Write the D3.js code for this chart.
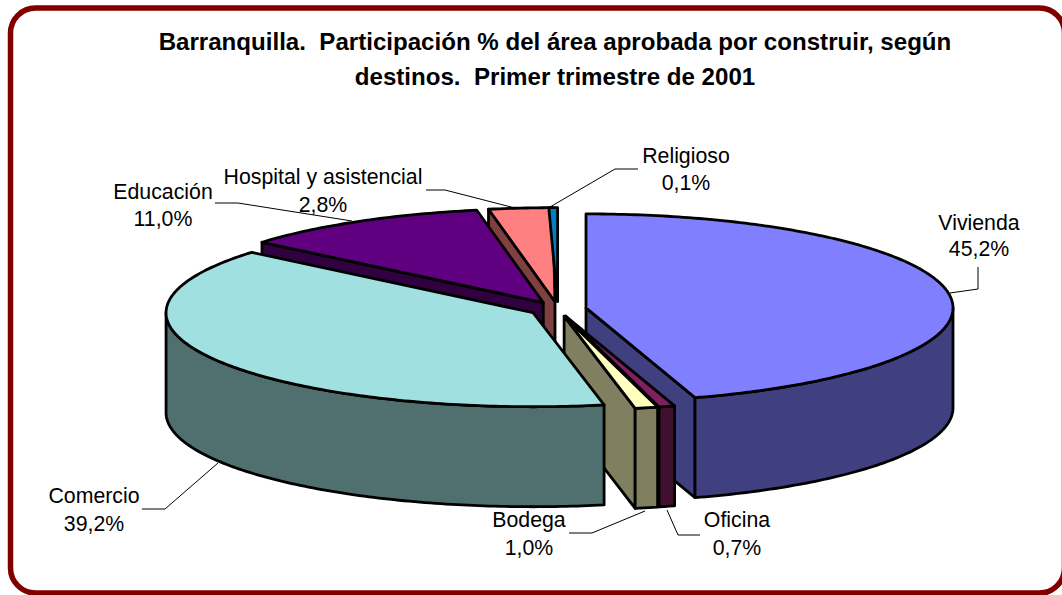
<!DOCTYPE html>
<html lang="es">
<head>
<meta charset="utf-8">
<title>Barranquilla</title>
<script src="https://cdnjs.cloudflare.com/ajax/libs/d3/7.8.5/d3.min.js"></script>
<style>
html,body{margin:0;padding:0;background:#fff;overflow:hidden}
svg{display:block}
text{font-family:"Liberation Sans",Arial,sans-serif;fill:#000}
</style>
</head>
<body>
<div id="chart"></div>
<script>
const categories = ["Vivienda","Oficina","Bodega","Comercio","Educación","Hospital y asistencial","Religioso"];
const shares = [45.2,0.7,1.0,39.2,11.0,2.8,0.1];
const titleLines = ["Barranquilla.  Participación % del área aprobada por construir, según","destinos.  Primer trimestre de 2001"];
const topColors = ["#8080FF","#802060","#FFFFC0","#A0E0E0","#600080","#FF8080","#0080C0"];
const sideColors = ["#404080","#401030","#808060","#507070","#300040","#804040","#004060"];
// back-to-front painting order (indices into categories)
const paintOrder = [5,6,4,0,1,2,3];
// label anchor [x, first baseline, second baseline] and leader polyline
const labelLayout = [
  {x:979,y:[230,256],leader:[[978,267],[978,289],[950,293]]},
  {x:737,y:[527,555],leader:[[700,535],[678,535],[667,510]]},
  {x:529,y:[527,555],leader:[[569,533],[592,533],[645,511]]},
  {x:94, y:[503,531],leader:[[142,509],[165,509],[218,463]]},
  {x:163,y:[199,226],leader:[[215,203],[238,203],[352,221]]},
  {x:323,y:[184,212],leader:[[426,190],[445,190],[515,208]]},
  {x:686,y:[163,190],leader:[[638,169],[615,169],[550,207]]}
];

const W = 1062, H = 595;
const cx = 557.7, cy = 309, rx = 367, ry = 94, depth = 100, explode = 0.078;
// very thin wedges are widened to this sweep so their fill stays visible
const minSweep = 0.024;
const sx = d3.scaleLinear().domain([-1,1]).range([cx-rx,cx+rx]);
const sy = d3.scaleLinear().domain([-1,1]).range([cy-ry,cy+ry]);

const svg = d3.select("#chart").append("svg").attr("width",W).attr("height",H);

// frame
svg.append("rect").attr("x",13.5).attr("y",11).attr("width",1051).attr("height",585).attr("rx",25).attr("fill","#000");
svg.append("rect").attr("x",10.5).attr("y",8).attr("width",1054).attr("height",585).attr("rx",25)
  .attr("fill","#fff").attr("stroke","#800000").attr("stroke-width",5.5);

// title
svg.selectAll("text.title").data(titleLines).join("text").attr("class","title")
  .attr("x",555).attr("y",(d,i)=>50+i*35).attr("text-anchor","middle")
  .attr("font-size",24.1).attr("font-weight","bold").style("white-space","pre").text(d=>d);

// pie geometry
const arcs = d3.pie().sort(null).value(d=>d).startAngle(0).endAngle(2*Math.PI)(shares);
const line = d3.line();

function slicePoints(a){
  const mid=(a.startAngle+a.endAngle)/2;
  return {ax:Math.sin(mid)*explode, ay:-Math.cos(mid)*explode};
}
function rimPoint(o,t,dy=0){
  return [sx(o.ax+Math.sin(t)), sy(o.ay-Math.cos(t))+dy];
}
function sample(t0,t1){
  const n=Math.max(2,Math.ceil(Math.abs(t1-t0)/0.015));
  return d3.range(n+1).map(i=>t0+(t1-t0)*i/n);
}
const g = svg.append("g").attr("stroke","#000").attr("stroke-width",2.8).attr("stroke-linejoin","round");

paintOrder.forEach(i=>{
  const a=arcs[i], o=slicePoints(a), e=a.endAngle;
  const thin = e-a.startAngle < minSweep;
  const s = thin ? e-minSweep : a.startAngle;
  const apex=[sx(o.ax),sy(o.ay)], apexB=[apex[0],apex[1]+depth];
  const side=sideColors[i];
  const cut=t=>{
    const r=rimPoint(o,t), b=rimPoint(o,t,depth);
    g.append("path").attr("fill",side).attr("d",line([apex,r,b,apexB])+"Z");
  };
  // cut faces turned towards the viewer
  if(!thin && Math.sin(s)<-1e-6) cut(s);
  if(!thin && Math.sin(e)>1e-6) cut(e);
  // outer wall (front half of the rim)
  const w0=Math.max(s,Math.PI/2), w1=Math.min(e,3*Math.PI/2);
  if(w1>w0){
    const ts=sample(w0,w1);
    const pts=ts.map(t=>rimPoint(o,t)).concat(ts.slice().reverse().map(t=>rimPoint(o,t,depth)));
    g.append("path").attr("fill",side).attr("d",line(pts)+"Z");
  }
  // top
  const top=[apex].concat(sample(s,e).map(t=>rimPoint(o,t)));
  g.append("path").attr("fill",topColors[i]).attr("d",line(top)+"Z");
});

// leaders
svg.append("g").selectAll("path").data(labelLayout).join("path")
  .attr("d",d=>line(d.leader)).attr("fill","none").attr("stroke","#000").attr("stroke-width",1);

// labels
const labels = svg.append("g").selectAll("g").data(categories).join("g");
labels.append("text").attr("x",(d,i)=>labelLayout[i].x).attr("y",(d,i)=>labelLayout[i].y[0])
  .attr("text-anchor","middle").attr("font-size",21.3).text(d=>d);
labels.append("text").attr("x",(d,i)=>labelLayout[i].x).attr("y",(d,i)=>labelLayout[i].y[1])
  .attr("text-anchor","middle").attr("font-size",21.3).text((d,i)=>d3.format(".1f")(shares[i]).replace(".",",")+"%");
</script>
</body>
</html>
